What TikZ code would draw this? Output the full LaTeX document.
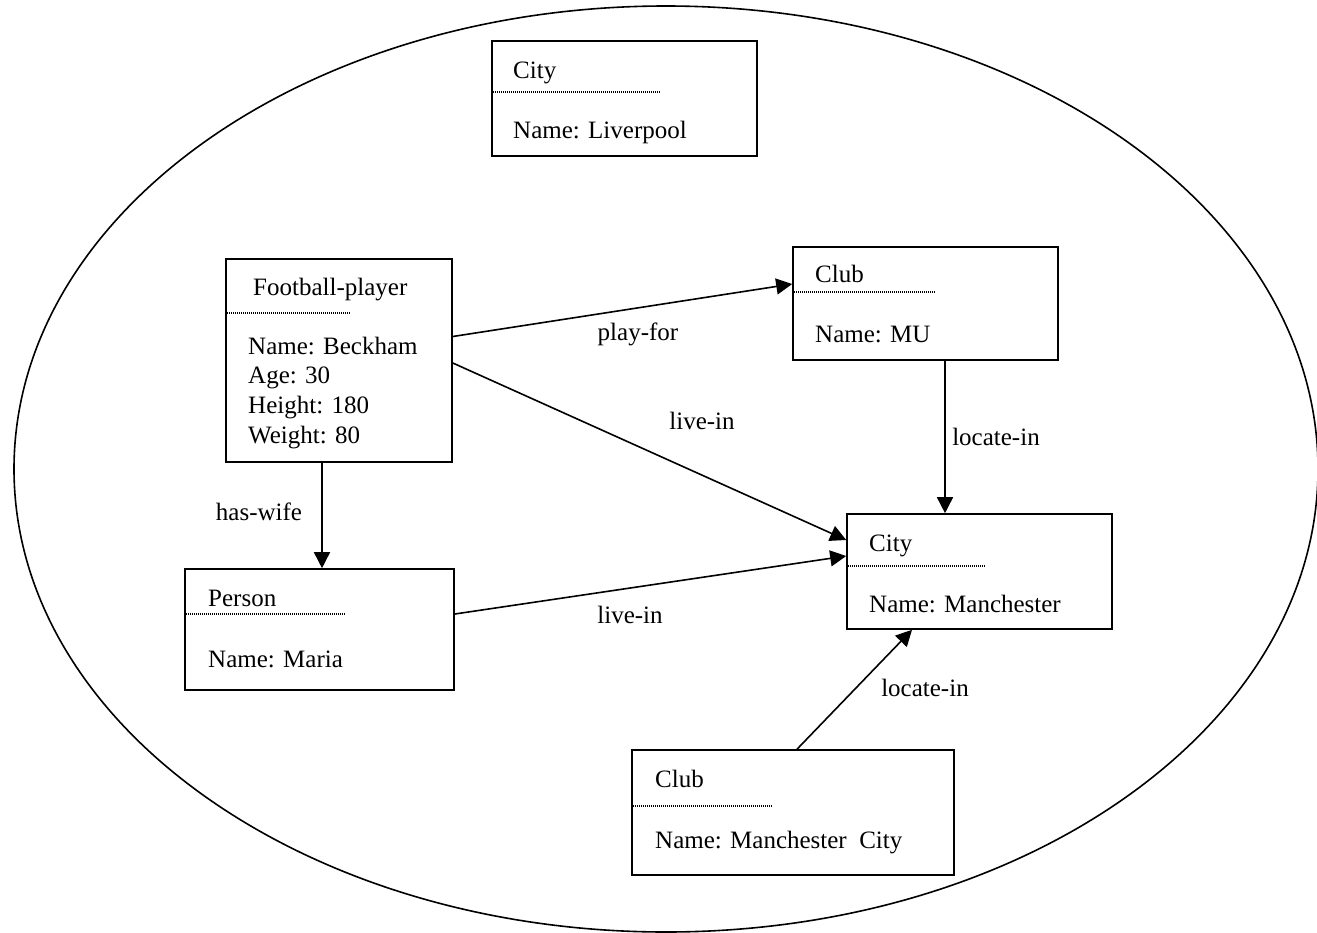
\documentclass[tikz,border=0pt]{standalone}
\usepackage{fontspec}
\setmainfont{Liberation Serif}
\usetikzlibrary{arrows.meta}
\begin{document}
\begin{tikzpicture}[x=1pt,y=-1pt,
  box/.style={draw, line width=1.6pt, rectangle, inner sep=0pt, minimum width=#1},
  txt/.style={inner sep=0pt, anchor=base west, font=\fontsize{25}{29.5}\selectfont},
  lbl/.style={inner sep=0pt, anchor=base, font=\fontsize{25}{29.5}\selectfont},
  sep/.style={line width=1.3pt, dash pattern=on 1pt off 1pt, black},
  conn/.style={line width=1.6pt, -{Triangle[length=16pt,width=16pt]}}]
\useasboundingbox (0,0) rectangle (1317,932);
\draw[line width=1.6pt] (666,469) ellipse [x radius=652pt, y radius=463pt];

% boxes
\node[box=265pt, minimum height=115pt] (liv) at (624.5,98.5) {};
\node[box=226pt, minimum height=203pt] (fp) at (339,360.5) {};
\node[box=265pt, minimum height=113pt] (mu) at (925.5,303.5) {};
\node[box=265pt, minimum height=115pt] (man) at (979.5,571.5) {};
\node[box=269pt, minimum height=121pt] (per) at (319.5,629.5) {};
\node[box=322pt, minimum height=125pt] (mc) at (793,812.5) {};

% separators
\coordinate (livs) at (660,92);
\draw[sep] (liv.west |- livs) -- (livs);
\coordinate (fps) at (350,313);
\draw[sep] (fp.west |- fps) -- (fps);
\coordinate (mus) at (935,292);
\draw[sep] (mu.west |- mus) -- (mus);
\coordinate (mans) at (986,566);
\draw[sep] (man.west |- mans) -- (mans);
\coordinate (pers) at (345,614);
\draw[sep] (per.west |- pers) -- (pers);
\coordinate (mcs) at (772,806);
\draw[sep] (mc.west |- mcs) -- (mcs);

% texts
\node[txt] (t1) at (513,78) {City};
\node[txt] (t2) at (513,138) {Name: Liverpool};
\node[txt] (t3) at (253,295) {Football-player};
\node[txt] (t4) at (248,354) {Name: Beckham};
\node[txt] (t5) at (248,383) {Age: 30};
\node[txt] (t6) at (248,413) {Height: 180};
\node[txt] (t7) at (248,443) {Weight: 80};
\node[txt] (t8) at (815,282) {Club};
\node[txt] (t9) at (815,342) {Name: MU};
\node[txt] (t10) at (869,551) {City};
\node[txt] (t11) at (869,612) {Name: Manchester};
\node[txt] (t12) at (208,606) {Person};
\node[txt] (t13) at (208,667) {Name: Maria};
\node[txt] (t14) at (655,787) {Club};
\node[txt] (t15) at (655,848) {Name: Manchester\ \ City};

% connectors
\draw[conn] ([yshift=24pt]fp.east) -- ([yshift=19.5pt]mu.west);
\draw[conn] ([yshift=-2.5pt]fp.east) -- ([yshift=31.5pt]man.west);
\draw[conn] ([xshift=19.5pt]mu.south) -- ([xshift=-34.5pt]man.north);
\draw[conn] ([xshift=-17pt]fp.south) -- ([xshift=-17pt]fp.south |- per.north);
\draw[conn] ([yshift=15.5pt]per.east) -- ([yshift=15.5pt]man.west);
\draw[conn] ([xshift=4pt]mc.north) -- ([xshift=-67.5pt]man.south);

% labels
\node[lbl] (l1) at (638,340) {play-for};
\node[lbl] (l2) at (702,429) {live-in};
\node[lbl] (l3) at (996,445) {locate-in};
\node[lbl] (l4) at (259,520) {has-wife};
\node[lbl] (l5) at (630,623) {live-in};
\node[lbl] (l6) at (925,696) {locate-in};
\end{tikzpicture}
\end{document}
